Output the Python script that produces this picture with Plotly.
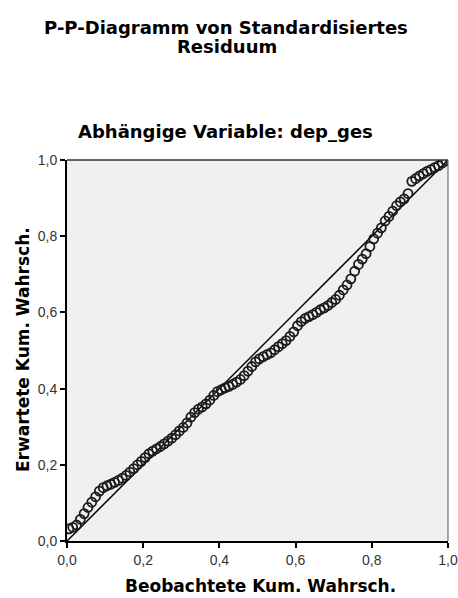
import plotly.graph_objects as go

# Observed cumulative probability (x) and expected cumulative probability (y)
observed = [0.005, 0.015, 0.025, 0.035, 0.045, 0.055, 0.065, 0.075, 0.085, 0.095,
            0.105, 0.115, 0.125, 0.135, 0.145, 0.155, 0.165, 0.175, 0.185, 0.195,
            0.205, 0.215, 0.225, 0.235, 0.245, 0.255, 0.265, 0.275, 0.285, 0.295,
            0.305, 0.315, 0.325, 0.335, 0.345, 0.355, 0.365, 0.375, 0.385, 0.395,
            0.405, 0.415, 0.425, 0.435, 0.445, 0.455, 0.465, 0.475, 0.485, 0.495,
            0.505, 0.515, 0.525, 0.535, 0.545, 0.555, 0.565, 0.575, 0.585, 0.595,
            0.605, 0.615, 0.625, 0.635, 0.645, 0.655, 0.665, 0.675, 0.685, 0.695,
            0.705, 0.715, 0.725, 0.735, 0.745, 0.755, 0.765, 0.775, 0.785, 0.795,
            0.805, 0.815, 0.825, 0.835, 0.845, 0.855, 0.865, 0.875, 0.885, 0.895,
            0.905, 0.915, 0.925, 0.935, 0.945, 0.955, 0.965, 0.975, 0.985, 0.995]
expected = [0.032, 0.036, 0.042, 0.057, 0.072, 0.088, 0.102, 0.116, 0.131, 0.140,
            0.145, 0.149, 0.154, 0.159, 0.165, 0.172, 0.181, 0.190, 0.200, 0.209,
            0.219, 0.229, 0.236, 0.242, 0.248, 0.255, 0.262, 0.270, 0.279, 0.289,
            0.298, 0.310, 0.325, 0.337, 0.346, 0.352, 0.360, 0.370, 0.382, 0.392,
            0.397, 0.402, 0.406, 0.411, 0.417, 0.424, 0.434, 0.446, 0.458, 0.470,
            0.478, 0.484, 0.489, 0.494, 0.502, 0.510, 0.518, 0.526, 0.537, 0.549,
            0.565, 0.576, 0.584, 0.589, 0.594, 0.600, 0.607, 0.612, 0.618, 0.626,
            0.634, 0.645, 0.659, 0.672, 0.688, 0.708, 0.726, 0.740, 0.754, 0.773,
            0.793, 0.808, 0.822, 0.840, 0.852, 0.866, 0.880, 0.890, 0.898, 0.912,
            0.944, 0.951, 0.958, 0.964, 0.970, 0.975, 0.980, 0.985, 0.992, 0.998]
diag_x = [0.0, 1.0]
diag_y = [0.0, 1.0]
tick_vals = [0.0, 0.2, 0.4, 0.6, 0.8, 1.0]
tick_text = ["0,0", "0,2", "0,4", "0,6", "0,8", "1,0"]

FONT = "Liberation Sans, Arial, sans-serif"
TFONT = "DejaVu Sans, Liberation Sans, sans-serif"
PW = 381.0  # plot width/height in px
L, T, B = 67, 160, 541  # plot edges in page px


def px_x(p):
    return (p - L) / PW


def px_y(p):
    return (B - p) / PW


fig = go.Figure()
fig.add_trace(go.Scatter(x=diag_x, y=diag_y, mode="lines",
                         line=dict(color="black", width=1.5),
                         showlegend=False, hoverinfo="skip"))
fig.add_trace(go.Scatter(x=observed, y=expected, mode="markers",
                         marker=dict(symbol="circle-open", size=9,
                                     color="#1a1a1a", line=dict(width=1.8, color="#1a1a1a")),
                         showlegend=False))

axis_common = dict(range=[0, 1], tickvals=tick_vals, ticktext=tick_text,
                   ticks="outside", ticklen=5, tickwidth=1.5, tickcolor="black",
                   showline=True, linecolor="black", linewidth=2,
                   showgrid=False, zeroline=False, automargin=False,
                   tickfont=dict(family=FONT, size=14, color="#333"))


def ann(text, x, y, size=18, angle=0, yanchor="middle"):
    return dict(text="<b>%s</b>" % text, xref="paper", yref="paper",
                x=px_x(x), y=px_y(y), xanchor="center", yanchor=yanchor,
                showarrow=False, textangle=angle, borderpad=0,
                font=dict(size=size, family=TFONT, color="black"))


fig.update_layout(
    width=458, height=598,
    margin=dict(l=67, r=10, t=160, b=57),
    paper_bgcolor="white", plot_bgcolor="#f0f0f0",
    font=dict(family=FONT, color="black"),
    xaxis=dict(**axis_common),
    yaxis=dict(**axis_common),
    shapes=[
        dict(type="line", xref="paper", yref="paper", x0=0, x1=1, y0=1, y1=1,
             line=dict(color="#333", width=1.5)),
        dict(type="line", xref="paper", yref="paper", x0=1, x1=1, y0=0, y1=1,
             line=dict(color="#555", width=1)),
    ],
    annotations=[
        ann("P-P-Diagramm von Standardisiertes", 225.5, 27.5),
        ann("Residuum", 226.5, 47),
        ann("Abhängige Variable: dep_ges", 225, 131),
        ann("Beobachtete Kum. Wahrsch.", 260, 597, size=17, yanchor="bottom"),
        ann("Erwartete Kum. Wahrsch.", 23, 350, size=17, angle=-90),
    ],
)

fig.write_html("out.html", config={"displayModeBar": False},
               post_script="document.body.style.margin='0';document.body.style.overflow='hidden';")
